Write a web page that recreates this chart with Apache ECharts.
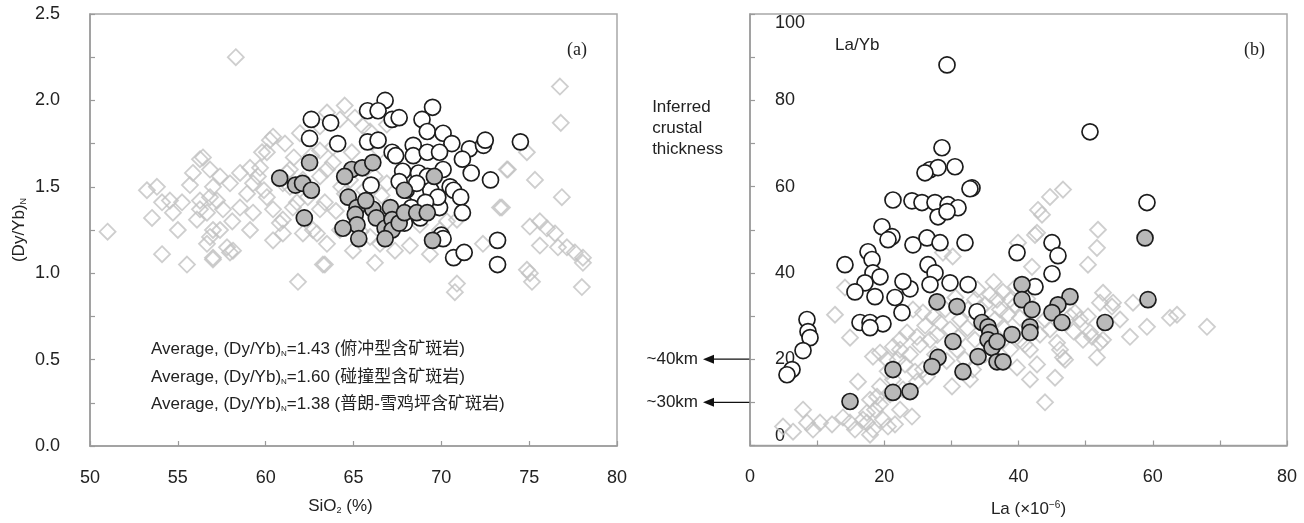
<!DOCTYPE html>
<html>
<head>
<meta charset="utf-8">
<script src="https://cdn.jsdelivr.net/npm/echarts@6/dist/echarts.min.js"></script>
<style>
  html, body { margin: 0; padding: 0; background: #fff; }
  #chart { width: 1304px; height: 523px; }
</style>
</head>
<body>
<div id="chart"></div>
<script>
  // (a) SiO2 (%) vs (Dy/Yb)N
  const subductionA = [
    [58.3, 2.25], [51.0, 1.24], [76.75, 2.08], [76.8, 1.87], [76.86, 1.44], [75.33, 1.54], [73.79, 1.60],
    [74.87, 1.70], [73.45, 1.38], [75.04, 1.27], [75.61, 1.30], [76.01, 1.26], [76.47, 1.23], [75.61, 1.16],
    [76.64, 1.15], [77.15, 1.15], [77.6, 1.12], [78.06, 1.09], [74.87, 1.02], [75.16, 0.95], [78.0, 0.92],
    [70.77, 0.89], [78.06, 1.06], [66.22, 1.06], [63.37, 1.05], [54.1, 1.11], [55.52, 1.05], [57.0, 1.09],
    [57.97, 1.12], [61.84, 0.95], [63.26, 1.05], [53.24, 1.48], [53.81, 1.50], [53.53, 1.32], [54.1, 1.41],
    [54.55, 1.42], [54.72, 1.35], [55.24, 1.41], [55.69, 1.51], [55.86, 1.58], [56.26, 1.66], [56.26, 1.42],
    [56.09, 1.31], [56.66, 1.35], [57.0, 1.50], [57.23, 1.42], [57.0, 1.25], [57.97, 1.52], [58.54, 1.38],
    [58.94, 1.46], [58.54, 1.58], [59.28, 1.52], [59.68, 1.61], [60.07, 1.70], [60.42, 1.79], [61.1, 1.75],
    [61.21, 1.58], [61.38, 1.50], [61.55, 1.38], [60.81, 1.29], [60.98, 1.23], [62.12, 1.23], [61.95, 1.81],
    [63.09, 1.85], [63.49, 1.93], [63.09, 1.71], [63.09, 1.56], [63.37, 1.41], [62.92, 1.23], [56.66, 1.17],
    [57.8, 1.15], [56.43, 1.67], [56.83, 1.60], [57.4, 1.56], [56.83, 1.44], [56.26, 1.37], [57.57, 1.37],
    [56.83, 1.21], [57.4, 1.25], [57.0, 1.08], [58.14, 1.13], [59.11, 1.61], [59.56, 1.56], [59.28, 1.35],
    [59.11, 1.25], [59.79, 1.70], [60.24, 1.77], [60.07, 1.44], [60.42, 1.37], [60.42, 1.19], [60.98, 1.31],
    [60.98, 1.52], [61.38, 1.60], [61.78, 1.41], [62.12, 1.54], [63.83, 1.73], [63.49, 1.60], [63.83, 1.64],
    [63.09, 1.37], [62.69, 1.25], [63.49, 1.17], [64.23, 1.25], [64.97, 1.13], [65.54, 1.85], [65.94, 1.82],
    [66.9, 1.86], [65.94, 1.21], [66.51, 1.17], [70.32, 1.30], [69.92, 1.25], [70.89, 1.31], [72.37, 1.17],
    [73.73, 1.60], [73.34, 1.38], [70.89, 0.94], [75.04, 1.00], [64.51, 1.46], [64.8, 1.54], [64.23, 1.89],
    [65.08, 1.90], [64.5, 1.97], [66.5, 1.71], [68.78, 1.28], [68.21, 1.16], [67.36, 1.13], [69.35, 1.11],
    [64.0, 1.36], [64.3, 1.50], [65.6, 1.48], [66.6, 1.45], [66.2, 1.56], [64.9, 1.70], [65.4, 1.24],
    [66.9, 1.52], [58.1, 1.30], [55.0, 1.25], [59.9, 1.48], [62.4, 1.44], [62.6, 1.68], [61.6, 1.67]
  ]
  const collisionA = [
    [66.8, 2.00], [65.8, 1.94], [66.4, 1.94], [67.2, 1.89], [67.6, 1.90], [69.5, 1.96], [62.6, 1.89],
    [63.7, 1.87], [62.5, 1.78], [64.1, 1.75], [68.9, 1.89], [69.2, 1.82], [70.1, 1.81], [70.6, 1.75],
    [71.6, 1.72], [72.4, 1.74], [72.5, 1.77], [74.5, 1.76], [65.8, 1.76], [66.4, 1.77], [67.2, 1.70],
    [67.4, 1.68], [68.4, 1.74], [68.4, 1.68], [69.2, 1.70], [69.9, 1.70], [71.2, 1.66], [71.7, 1.58],
    [72.8, 1.54], [67.8, 1.59], [68.7, 1.58], [69.2, 1.56], [70.1, 1.60], [70.5, 1.50], [70.7, 1.48],
    [71.1, 1.44], [71.2, 1.35], [66.0, 1.51], [68.6, 1.46], [69.4, 1.48], [69.9, 1.38], [70.0, 1.22],
    [70.1, 1.20], [70.7, 1.09], [71.3, 1.12], [73.2, 1.19], [73.2, 1.05], [68.0, 1.48], [68.6, 1.52],
    [69.8, 1.44], [67.6, 1.53], [68.3, 1.38], [68.8, 1.32], [67.9, 1.29], [69.1, 1.41]
  ]
  const pulangA = [
    [60.8, 1.55], [61.7, 1.51], [62.1, 1.52], [62.6, 1.48], [62.5, 1.64], [62.2, 1.32], [64.9, 1.60],
    [64.5, 1.56], [65.5, 1.61], [66.1, 1.64], [69.6, 1.56], [67.9, 1.48], [64.7, 1.44], [65.2, 1.38],
    [65.1, 1.34], [65.2, 1.28], [64.4, 1.26], [66.1, 1.37], [66.3, 1.32], [66.8, 1.26], [67.1, 1.38],
    [67.2, 1.31], [67.2, 1.25], [67.6, 1.29], [67.9, 1.35], [68.6, 1.35], [69.2, 1.35], [69.5, 1.19],
    [65.3, 1.20], [66.8, 1.20], [65.7, 1.42]
  ]

  // (b) La vs La/Yb
  const subductionB = [
    [4.92, 4.4], [6.41, 3.2], [7.9, 8.3], [8.49, 5.3], [9.39, 3.7], [10.43, 5.3], [12.22, 4.9], [13.85, 6.5],
    [14.9, 5.3], [16.09, 14.8], [17.43, 5.3], [18.32, 3.7], [17.43, 7.6], [18.62, 8.3], [19.81, 6.0],
    [18.92, 11.3], [19.37, 13.7], [24.13, 6.7], [12.66, 30.3], [14.9, 25.0], [14.15, 36.6], [18.32, 20.6],
    [19.37, 21.5], [20.41, 19.9], [21.3, 22.9], [22.35, 24.5], [23.39, 26.2], [24.88, 25.2], [21.3, 15.3],
    [22.79, 13.0], [24.88, 14.8], [25.77, 17.6], [26.37, 16.0], [24.28, 31.5], [25.77, 30.8], [28.31, 28.5],
    [29.8, 26.9], [30.84, 22.2], [30.09, 13.7], [32.77, 15.3], [33.22, 17.6], [39.78, 18.1], [42.76, 18.8],
    [45.44, 15.7], [43.95, 10.0], [46.63, 20.4], [46.18, 22.2], [48.42, 30.8], [49.16, 29.2], [50.35, 29.9],
    [49.61, 24.5], [50.95, 25.2], [51.69, 20.4], [52.14, 23.8], [52.14, 33.1], [52.59, 35.4], [53.93, 32.2],
    [56.61, 25.2], [57.06, 33.1], [59.14, 27.5], [62.57, 29.6], [63.61, 30.3], [68.08, 27.5], [52.59, 24.5],
    [45.74, 23.8], [40.22, 24.5], [46.63, 59.3], [44.69, 57.6], [42.9, 54.6], [43.5, 53.5], [42.46, 48.8],
    [51.84, 50.0], [51.69, 45.8], [50.35, 41.9], [42.01, 41.4], [54.08, 33.1], [46.93, 19.9], [50.65, 26.2],
    [47.67, 29.9], [28.75, 44.7], [42.76, 49.3], [39.93, 47.0], [35.75, 35.0], [36.8, 33.8], [37.69, 35.6],
    [38.73, 33.8], [37.24, 31.5], [38.43, 30.3], [39.48, 32.6], [36.5, 29.2], [40.22, 29.6], [35.01, 32.6],
    [33.52, 33.8], [32.48, 31.5], [31.28, 29.2], [40.97, 23.4], [43.2, 25.7], [43.95, 29.2], [44.69, 26.9],
    [22.35, 22.2], [23.84, 21.1], [25.33, 23.4], [26.82, 24.5], [27.56, 21.1], [23.09, 18.8], [24.58, 17.1],
    [20.86, 11.8], [19.37, 9.5], [22.35, 8.3], [17.88, 10.6], [16.83, 6.0], [15.64, 3.7], [20.56, 4.4],
    [17.88, 2.5], [21.6, 4.9], [30.2, 43.8], [35.01, 21.1], [33.52, 24.5], [32.03, 19.9], [41.71, 15.3],
    [55.12, 29.2], [41.71, 22.2], [26.1, 27.8], [27.3, 29.9], [29.1, 31.6], [30.6, 34.3], [32.4, 27.2],
    [34.1, 29.9], [37.9, 27.1], [38.8, 22.3], [33.9, 36.2], [36.3, 37.9], [20.5, 17.2], [22.0, 19.9],
    [27.9, 25.6], [29.3, 19.6], [31.0, 25.0], [34.3, 31.8], [39.6, 36.8], [41.3, 34.0], [48.2, 26.4]
  ]
  const collisionB = [
    [29.35, 88.2], [28.6, 69.0], [26.82, 63.9], [28.01, 64.4], [30.54, 64.6], [26.07, 63.2], [33.07, 59.7],
    [21.3, 56.9], [24.13, 56.7], [25.62, 56.3], [27.56, 56.3], [29.5, 55.8], [30.99, 55.1], [28.01, 53.0],
    [29.35, 54.2], [19.66, 50.7], [21.15, 48.4], [20.56, 47.7], [24.28, 46.5], [26.37, 48.1], [28.31, 47.0],
    [32.03, 47.0], [14.15, 41.9], [17.58, 44.9], [18.18, 43.1], [18.32, 40.0], [19.37, 39.1], [17.13, 37.7],
    [15.64, 35.6], [18.62, 34.5], [21.6, 34.3], [23.84, 36.3], [22.79, 38.0], [26.52, 41.9], [27.56, 40.0],
    [26.82, 37.3], [29.8, 37.7], [22.64, 30.8], [16.39, 28.5], [17.88, 28.5], [19.81, 28.2], [17.88, 27.3],
    [8.49, 29.2], [8.64, 26.4], [8.94, 25.0], [7.9, 22.0], [6.26, 17.6], [5.51, 16.4], [50.65, 72.7],
    [32.77, 59.5], [39.78, 44.7], [44.99, 47.0], [45.88, 44.0], [44.99, 39.8], [32.48, 37.3], [42.46, 36.8],
    [33.82, 31.0], [59.14, 56.3]
  ]
  const pulangB = [
    [27.86, 33.3], [30.84, 32.2], [30.24, 24.1], [28.01, 20.4], [27.11, 18.3], [21.3, 17.6], [21.3, 12.3],
    [23.84, 12.5], [14.9, 10.2], [31.73, 17.1], [40.52, 37.3], [40.52, 33.8], [42.01, 31.5], [47.67, 34.5],
    [45.88, 32.6], [44.99, 30.8], [46.48, 28.5], [52.89, 28.5], [58.85, 48.1], [59.29, 33.8], [34.56, 28.5],
    [35.46, 27.5], [35.75, 26.2], [35.46, 24.5], [36.05, 22.7], [33.97, 20.6], [36.8, 19.4], [37.69, 19.4],
    [36.8, 24.1], [39.03, 25.7], [41.71, 27.5], [41.71, 26.2]
  ]

  const averageLines = [
    ['1.43', '俯冲型含矿斑岩'],
    ['1.60', '碰撞型含矿斑岩'],
    ['1.38', '普朗-雪鸡坪含矿斑岩']
  ]
  const thicknessMarks = [[20, '~40km'], [10, '~30km']]

  const sans = '"Liberation Sans", Arial, "Noto Sans CJK SC", sans-serif'
  const axisGray = '#9a9a9a'
  const textColor = '#222'

  function diamonds(data, i) {
    return {
      type: 'scatter', xAxisIndex: i, yAxisIndex: i, symbol: 'diamond', symbolSize: 16,
      itemStyle: {color: 'rgba(255,255,255,0)', borderColor: '#c2c2c2', borderWidth: 1.8},
      data: data, silent: true
    }
  }
  function circles(data, i, fill) {
    return {
      type: 'scatter', xAxisIndex: i, yAxisIndex: i, symbol: 'circle', symbolSize: 16,
      itemStyle: {color: fill, borderColor: '#1c1c1c', borderWidth: 1.7, opacity: 1},
      data: data, silent: true
    }
  }
  function xAxis(i, min, max, interval, name, gap, fmt, pad) {
    return {
      type: 'value', gridIndex: i, min: min, max: max, interval: interval,
      name: name, nameLocation: 'middle', nameGap: gap,
      nameTextStyle: {
        fontFamily: sans, fontSize: 17, color: textColor, padding: pad,
        rich: {
          t: {fontFamily: sans, fontSize: 17, color: textColor},
          s: {fontFamily: sans, fontSize: 9, color: textColor, verticalAlign: 'bottom', padding: [8, 0, 0, 0]},
          u: {fontFamily: sans, fontSize: 10, color: textColor, verticalAlign: 'top', padding: [0, 0, 8, 0]}
        }
      },
      axisLine: {lineStyle: {color: axisGray, width: 1.5}},
      axisTick: {inside: true, length: 5, lineStyle: {color: axisGray, width: 1.2}},
      axisLabel: {fontFamily: sans, fontSize: 18, color: textColor, margin: 23, formatter: fmt},
      splitLine: {show: false}
    }
  }

  const chart = echarts.init(document.getElementById('chart'))
  chart.setOption({
    animation: false,
    backgroundColor: '#fff',
    grid: [
      {left: 90, top: 14, width: 527, height: 432, show: true, borderColor: '#a8a8a8', borderWidth: 1.5},
      {left: 750, top: 14, width: 537, height: 432, show: true, borderColor: '#a8a8a8', borderWidth: 1.5}
    ],
    xAxis: [
      xAxis(0, 50, 80, 5, '{t|SiO}{s|2}{t| (%)}', 52, v => String(v), [0, 26, 0, 0]),
      xAxis(1, 0, 80, 10, '{t|La (×10}{u|−6}{t|)}', 55, v => (v % 20 === 0 ? String(v) : ''), [0, 0, 0, 20])
    ],
    yAxis: [
      {
        type: 'value', gridIndex: 0, min: 0, max: 2.5, interval: 0.25,
        name: '{t|(Dy/Yb)}{s|N}', nameLocation: 'middle', nameGap: 62, nameRotate: 90,
        nameTextStyle: {
          rich: {
            t: {fontFamily: sans, fontSize: 17, color: textColor},
            s: {fontFamily: sans, fontSize: 9, color: textColor, verticalAlign: 'bottom', padding: [8, 0, 0, 0]}
          }
        },
        axisLine: {show: true, lineStyle: {color: axisGray, width: 1.5}},
        axisTick: {show: true, inside: true, length: 5, lineStyle: {color: axisGray, width: 1.2}},
        axisLabel: {
          fontFamily: sans, fontSize: 18, color: textColor, margin: 30,
          formatter: v => (Math.round(v * 100) % 50 === 0 ? v.toFixed(1) : '')
        },
        splitLine: {show: false}
      },
      {
        type: 'value', gridIndex: 1, min: 0, max: 100, interval: 10,
        axisLine: {show: true, lineStyle: {color: axisGray, width: 1.5}},
        axisTick: {show: true, inside: true, length: 5, lineStyle: {color: axisGray, width: 1.2}},
        axisLabel: {
          inside: true, fontFamily: sans, fontSize: 18, color: textColor, margin: 25,
          verticalAlignMaxLabel: 'top', verticalAlignMinLabel: 'bottom',
          formatter: v => (v % 20 === 0 ? String(v) : '')
        },
        splitLine: {show: false}
      }
    ],
    series: [
      diamonds(subductionA, 0),
      circles(collisionA, 0, '#ffffff'),
      circles(pulangA, 0, '#b9b9b9'),
      diamonds(subductionB, 1),
      circles(collisionB, 1, '#ffffff'),
      circles(pulangB, 1, '#b9b9b9')
    ]
  })

  // annotations
  const graphics = []
  averageLines.forEach(([val, label], k) => {
    graphics.push({
      type: 'text', left: 151, top: 341 + k * 27.5, silent: true,
      style: {
        text: '{t|Average, (Dy/Yb)}{s|N}{t|=' + val + ' (' + label + ')}',
        rich: {
          t: {fontFamily: sans, fontSize: 17, fill: textColor},
          s: {fontFamily: sans, fontSize: 8, fill: textColor, verticalAlign: 'bottom', padding: [9, 0, 0, 0]}
        }
      }
    })
  })
  graphics.push(
    {type: 'text', left: 567, top: 41, silent: true,
      style: {text: '(a)', font: '18px "Liberation Serif", "DejaVu Serif", serif', fill: textColor}},
    {type: 'text', left: 1244, top: 41, silent: true,
      style: {text: '(b)', font: '18px "Liberation Serif", "DejaVu Serif", serif', fill: textColor}},
    {type: 'text', left: 835, top: 37, silent: true,
      style: {text: 'La/Yb', font: '17px ' + sans, fill: textColor}},
    {type: 'text', right: 1304 - 723, top: 97, silent: true,
      style: {text: 'Inferred\ncrustal\nthickness', font: '17px ' + sans, fill: textColor, lineHeight: 21, align: 'right'}}
  )
  thicknessMarks.forEach(([v, label]) => {
    const [x0, y] = chart.convertToPixel({xAxisIndex: 1, yAxisIndex: 1}, [0, v])
    graphics.push(
      {type: 'line', silent: true, shape: {x1: x0, y1: y, x2: x0 - 36, y2: y}, style: {stroke: '#111', lineWidth: 1.3}},
      {type: 'polygon', silent: true, shape: {points: [[x0 - 47, y], [x0 - 36, y - 4.5], [x0 - 36, y + 4.5]]}, style: {fill: '#111'}},
      {type: 'text', silent: true, x: x0 - 52, y: y,
        style: {text: label, font: '17px ' + sans, fill: textColor, align: 'right', verticalAlign: 'middle'}}
    )
  })
  chart.setOption({graphic: graphics})
</script>
</body>
</html>
